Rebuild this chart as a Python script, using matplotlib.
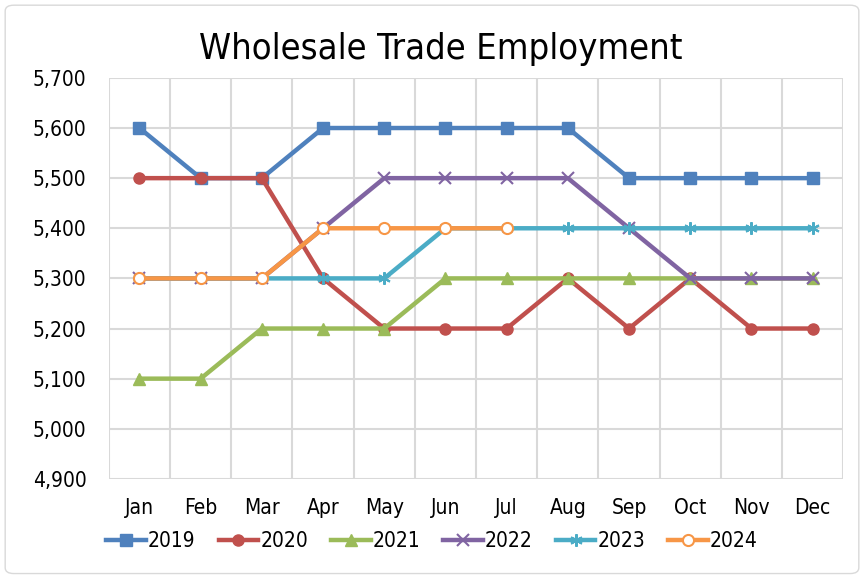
import numpy as np
import matplotlib
matplotlib.use("Agg")
import matplotlib.pyplot as plt
from matplotlib.patches import FancyBboxPatch
from matplotlib.ticker import FuncFormatter

months = ["Jan", "Feb", "Mar", "Apr", "May", "Jun", "Jul", "Aug", "Sep", "Oct", "Nov", "Dec"]
y2019 = [5600, 5500, 5500, 5600, 5600, 5600, 5600, 5600, 5500, 5500, 5500, 5500]
y2020 = [5500, 5500, 5500, 5300, 5200, 5200, 5200, 5300, 5200, 5300, 5200, 5200]
y2021 = [5100, 5100, 5200, 5200, 5200, 5300, 5300, 5300, 5300, 5300, 5300, 5300]
y2022 = [5300, 5300, 5300, 5400, 5500, 5500, 5500, 5500, 5400, 5300, 5300, 5300]
y2023 = [5300, 5300, 5300, 5300, 5300, 5400, 5400, 5400, 5400, 5400, 5400, 5400]
y2024 = [5300, 5300, 5300, 5400, 5400, 5400, 5400]

plt.rcParams["font.family"] = ["DejaVu Sans"]
plt.rcParams["font.stretch"] = "condensed"

fig = plt.figure(figsize=(8.64, 5.77), dpi=100)
fig.patches.append(FancyBboxPatch((0.006, 0.006), 0.988, 0.985, boxstyle="round,pad=0,rounding_size=0.01",
                                  transform=fig.transFigure, fill=False, edgecolor="#d9d9d9", linewidth=1))
ax = fig.add_axes([0.126, 0.170, 0.850, 0.695])

x = np.arange(len(months))
series = [
    ("2019", y2019, "#4F81BD", dict(marker="s", markersize=8)),
    ("2020", y2020, "#C0504D", dict(marker="o", markersize=8)),
    ("2021", y2021, "#9BBB59", dict(marker="^", markersize=8)),
    ("2022", y2022, "#8064A2", dict(marker="x", markersize=8, markeredgewidth=1.5)),
    ("2023", y2023, "#4BACC6", dict(marker=(6, 2, 0), markersize=9, markeredgewidth=1.5)),
    ("2024", y2024, "#F79646", dict(marker="o", markersize=8, markerfacecolor="white", markeredgewidth=1.5)),
]
for name, vals, col, mk in series:
    ax.plot(x[:len(vals)], vals, color=col, linewidth=3.2, label=name, **mk)

ax.set_xlim(-0.5, 11.5)
ax.set_ylim(4900, 5700)
ax.set_yticks(np.arange(4900, 5701, 100))
ax.yaxis.set_major_formatter(FuncFormatter(lambda v, p: f"{int(v):,}"))
ax.set_xticks(x)
ax.set_xticklabels(months)
ax.set_xticks(np.arange(-0.5, 12, 1), minor=True)
ax.grid(True, axis="y", which="major", color="#d9d9d9", linewidth=1.5)
ax.grid(True, axis="x", which="minor", color="#d9d9d9", linewidth=1.5)
ax.tick_params(which="both", length=0, labelsize=15, colors="black")
ax.tick_params(axis="y", pad=16)
ax.tick_params(axis="x", pad=14)
for s in ax.spines.values():
    s.set_visible(False)
ax.set_axisbelow(True)

fig.text(0.51, 0.915, "Wholesale Trade Employment", ha="center", va="center", fontsize=26)
ax.legend(loc="upper center", bbox_to_anchor=(0.44, -0.083), ncol=6, frameon=False,
          fontsize=15, handlelength=1.9, handletextpad=0.1, columnspacing=1.1)

fig.savefig("out.png", dpi=100)
